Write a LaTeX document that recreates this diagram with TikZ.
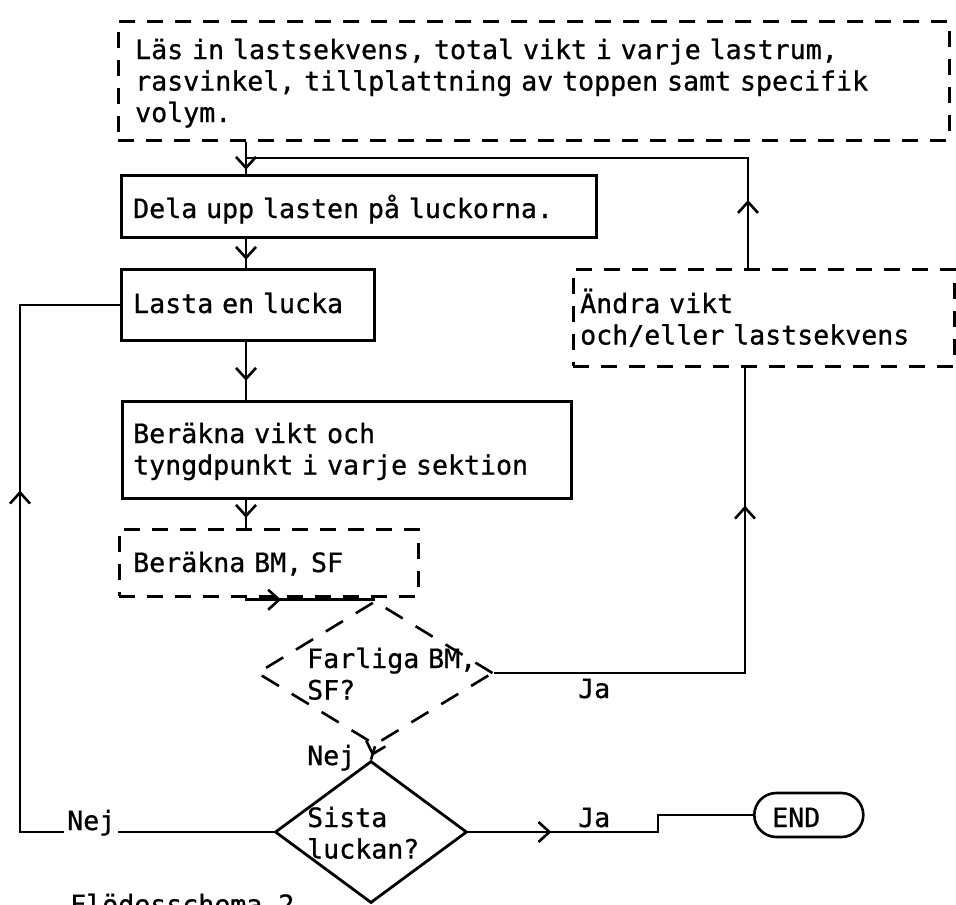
\documentclass[tikz,border=0pt]{standalone}
\usepackage{fontspec}
\newfontfamily\lgfont[BoldFont=DejaVu Sans Mono, BoldFeatures={FakeBold=0.8}]{DejaVu Sans Mono}
\usetikzlibrary{shapes.geometric,arrows.meta,decorations.markings}
\begin{document}
\begin{tikzpicture}[x=1pt,y=-1pt,
  every node/.style={font=\lgfont\bfseries\fontsize{26.6}{31.5}\selectfont},
  box/.style={draw, line width=2.8pt, rectangle, anchor=north west, inner sep=0pt},
  dbox/.style={box, dash pattern=on 16pt off 12pt},
  txt/.style={anchor=base west, inner sep=0pt, align=left, text width=#1},
  txt/.default=300pt,
  lbl/.style={anchor=base west, inner sep=0pt},
  conn/.style={draw, line width=2.6pt},
  arr/.style={postaction={decorate}, decoration={markings,
     mark=at position #1 with {\arrow{Straight Barb[length=11pt,width=20pt]}}}}
]
\fill[white] (0,0) rectangle (956,905);
\useasboundingbox (0,0) rectangle (956,905);

% boxes
\node[dbox, minimum width=831pt, minimum height=119pt] (in) at (117,20) {};
\node[box, minimum width=475pt, minimum height=62pt] (dela) at (120,174) {};
\node[box, minimum width=253pt, minimum height=71pt] (lasta) at (120,268) {};
\node[box, minimum width=449pt, minimum height=97pt] (ber) at (121,400) {};
\node[dbox, minimum width=299pt, minimum height=67pt] (bm) at (118,528) {};
\node[dbox, minimum width=381pt, minimum height=97pt] (andra) at (572,268) {};
\node[draw, diamond, line width=2.6pt, dash pattern=on 20pt off 15pt,
      minimum width=236pt, minimum height=144pt, inner sep=0pt] (farl) at (375,673) {};
\node[draw, diamond, line width=2.8pt,
      minimum width=192pt, minimum height=142pt, inner sep=0pt] (sista) at (371,832) {};
\node[draw, line width=2.6pt, rounded corners=22pt, minimum width=109pt,
      minimum height=44pt, anchor=west, inner sep=0pt] (end) at (753,815) {};

% texts
\node[txt=800pt] (inT) at (135,59) {Läs in lastsekvens, total vikt i varje lastrum,\\rasvinkel, tillplattning av toppen samt specifik\\volym.};
\node[txt=460pt] (delaT) at (133,218) {Dela upp lasten på luckorna.};
\node[txt=240pt] (lastaT) at (133,313) {Lasta en lucka};
\node[txt=430pt] (berT) at (133,443) {Beräkna vikt och\\tyngdpunkt i varje sektion};
\node[txt=280pt] (bmT) at (133,572) {Beräkna BM, SF};
\node[txt=360pt] (andraT) at (580,313) {Ändra vikt\\och/eller lastsekvens};
\node[txt=200pt] (farlT) at (307,668) {Farliga BM,\\SF?};
\node[txt=150pt] (sistaT) at (307,827) {Sista\\luckan?};
\node[lbl] (endT) at (772,827) {END};

% connectors
\coordinate (j1) at (246,158);
\coordinate (j2) at (748,158);
\coordinate (cx) at (246,0);
\coordinate (j8) at (745,0);
\coordinate (j9) at (20,0);
\coordinate (j10) at (658,0);

\draw[conn, arr=28pt] (in.south -| j1) -- (dela.north -| j1);
\draw[conn, arr=68pt] (andra.north -| j2) -- (j2) -- (j1);
\draw[conn, arr=21pt] (dela.south -| cx) -- (lasta.north -| cx);
\draw[conn, arr=39pt] (lasta.south -| cx) -- (ber.north -| cx);
\draw[conn, arr=18pt] (ber.south -| cx) -- (bm.north -| cx);
\draw[conn, arr=37pt] (bm.south -| cx) |- (farl.north);
\draw[conn, arr=10pt] (farl.south) -- (sista.north);
\draw[conn, arr=418pt] (farl.east) -| (andra.south -| j8);
\draw[conn, arr=595pt] (sista.west) -- (sista.west -| j9) |- (lasta.west);
\draw[conn, arr=83pt] (sista.east) -- (sista.east -| j10) |- (end.west);

% labels
\node[lbl] (ja1) at (578,698) {Ja};
\node[lbl] (ja2) at (578,827) {Ja};
\node[lbl] (nej1) at (307,765) {Nej};
\node[lbl, fill=white, inner xsep=3pt] (nej2) at (64,830) {Nej};

\begin{scope}
\clip (0,0) rectangle (956,905);
\node[lbl] (cut) at (70,914) {Flödesschema 2};
\end{scope}
\end{tikzpicture}
\end{document}
